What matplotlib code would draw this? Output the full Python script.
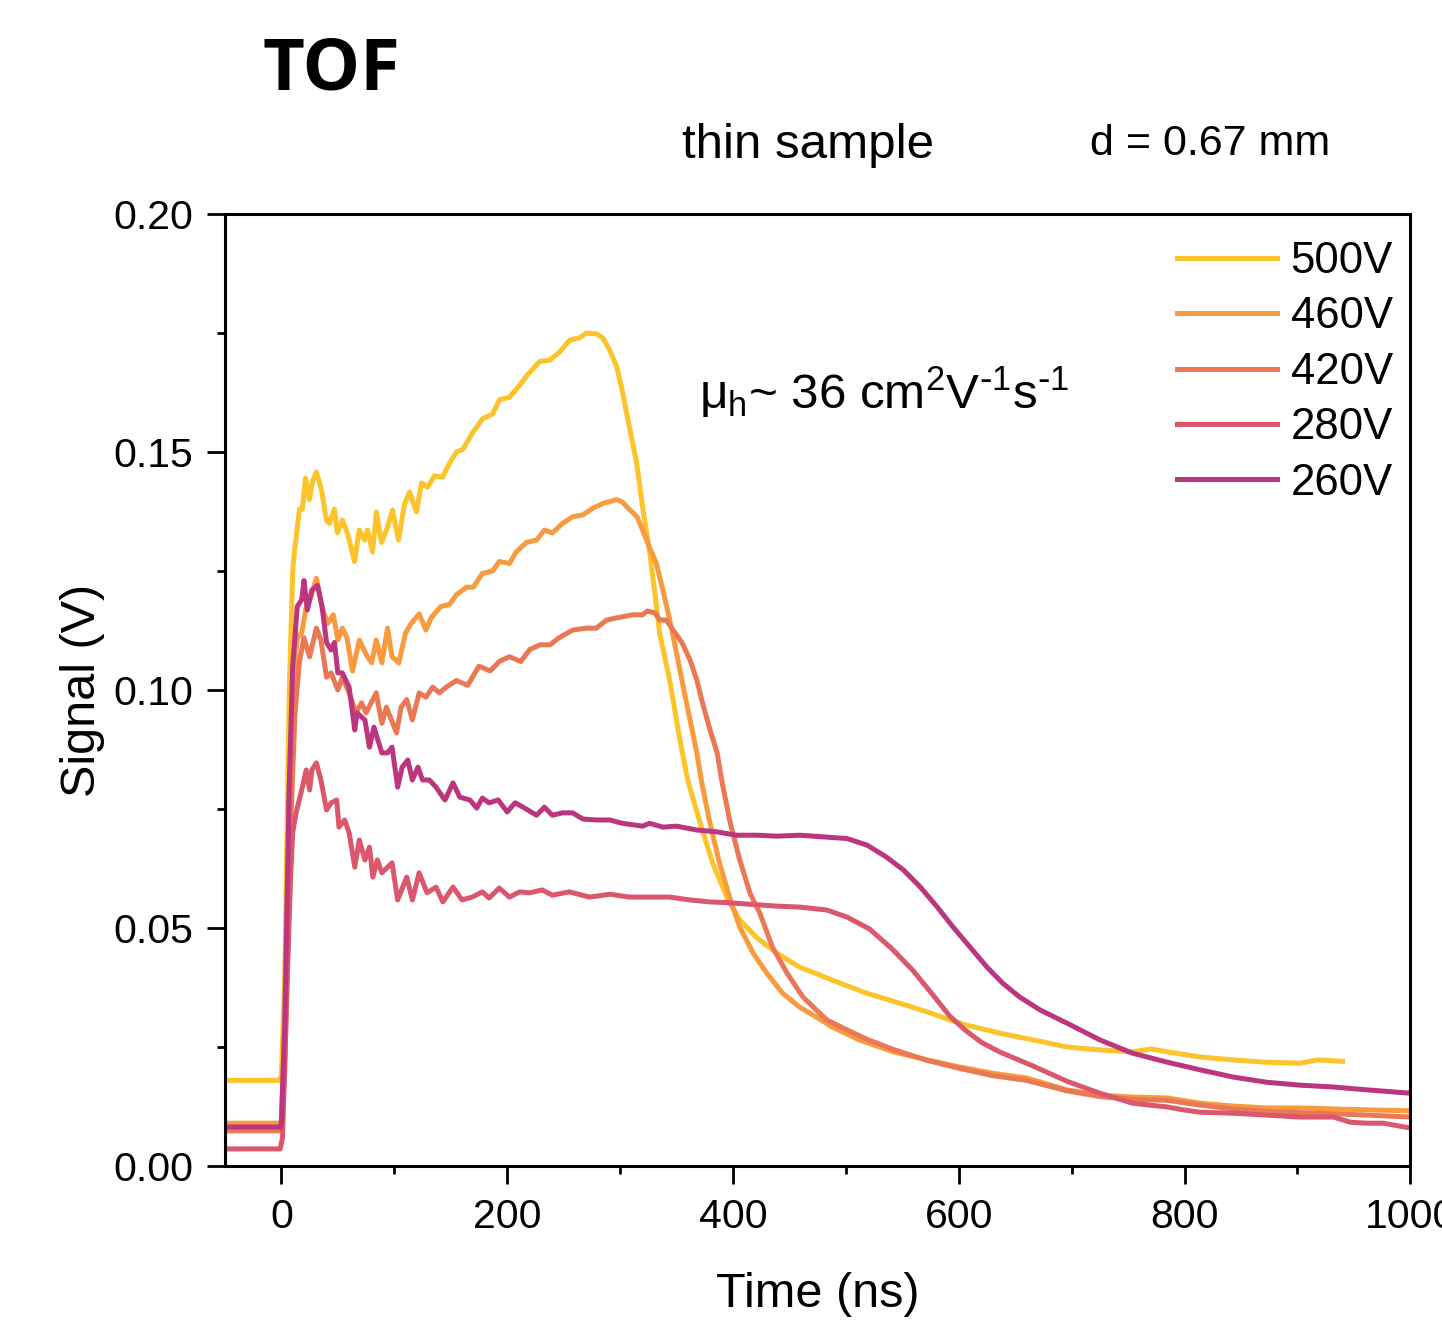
import matplotlib
matplotlib.use("Agg")
import matplotlib.pyplot as plt
from matplotlib.ticker import MultipleLocator, FormatStrFormatter

plt.rcParams['font.family'] = ['Liberation Sans', 'DejaVu Sans']
plt.rcParams['mathtext.default'] = 'regular'

# ---------------- data ----------------
labels = ["500V", "460V", "420V", "280V", "260V"]
colors = ["#FCC42A", "#F89A3E", "#EB7854", "#DB576C", "#BC357F"]

t_500 = [-50, -2, 0, 3, 7, 10, 11.5, 16, 18.6, 21.3, 24.8, 27.5, 31, 35.5, 39.9, 42.6, 47, 49.6, 54,
         58.5, 64.7, 69, 73.6, 76.2, 80.7, 84.2, 88.7, 94, 98.4, 103.7, 109, 113.5, 119.7, 124.1,
         129.4, 135.6, 142.7, 149, 155, 160.5, 169.3, 178.2, 187.1, 193.3, 202.1, 211, 217.2, 228.7,
         237.6, 246.5, 255.3, 264.2, 270.4, 279.3, 284.6, 290.8, 297, 302.3, 308.5, 314.7, 320,
         326.2, 332.4, 335, 344, 353, 360, 371, 382, 394.5, 406, 421, 439, 459, 488.5, 518.6, 548,
         577, 592, 607, 636.5, 666, 696, 725, 754, 770, 785, 814, 843, 873, 902, 918, 940]
v_500 = [0.018, 0.018, 0.019, 0.04, 0.10, 0.125, 0.129, 0.138, 0.138, 0.1445, 0.140, 0.1437, 0.1458,
         0.142, 0.1357, 0.135, 0.138, 0.133, 0.1357, 0.133, 0.127, 0.1336, 0.1315, 0.1336, 0.129,
         0.1374, 0.131, 0.1342, 0.1378, 0.1315, 0.139, 0.1416, 0.1374, 0.1435, 0.1426, 0.145, 0.1447,
         0.1477, 0.150, 0.1505, 0.154, 0.157, 0.158, 0.161, 0.1615, 0.164, 0.166, 0.169, 0.1693,
         0.171, 0.1735, 0.174, 0.175, 0.1748, 0.174, 0.1714, 0.168, 0.1624, 0.155, 0.1477, 0.1384,
         0.129, 0.1174, 0.112, 0.102, 0.0895, 0.081, 0.072, 0.0637, 0.0565, 0.0517, 0.048, 0.0447,
         0.0418, 0.039, 0.0363, 0.0342, 0.032, 0.0307, 0.0296, 0.0279, 0.0265, 0.025, 0.0244, 0.024,
         0.0246, 0.024, 0.0229, 0.0223, 0.0218, 0.0216, 0.0223, 0.022]

t_460 = [-50, -1, 0, 3, 7, 10, 14, 18, 22, 26, 31, 36, 41, 46, 50, 54, 58, 63, 69, 75, 80, 84, 89,
         94, 98, 104, 110, 115, 122, 128, 133, 141, 149, 155, 164, 170, 178, 187, 193, 202, 208, 217,
         226, 233, 240, 249, 258, 267, 276, 285, 297, 302, 308, 315, 320, 326, 332, 338, 344, 350,
         356, 362, 368, 372, 379, 388, 397, 406, 418, 430, 444, 459, 474, 488, 512, 542, 572, 601,
         630, 660, 696, 725, 754, 785, 814, 843, 873, 902, 932, 962, 1000]
v_460 = [0.009, 0.009, 0.010, 0.03, 0.08, 0.10, 0.111, 0.112, 0.1175, 0.1195, 0.1235, 0.1175, 0.114,
         0.1158, 0.1105, 0.113, 0.111, 0.104, 0.1105, 0.1075, 0.1057, 0.1105, 0.1057, 0.113, 0.107,
         0.1057, 0.112, 0.114, 0.116, 0.1126, 0.1153, 0.1175, 0.118, 0.120, 0.1216, 0.1216, 0.1245,
         0.125, 0.127, 0.1266, 0.129, 0.131, 0.1315, 0.1336, 0.133, 0.135, 0.1364, 0.1368, 0.1382,
         0.1392, 0.140, 0.1395, 0.138, 0.1364, 0.1336, 0.130, 0.1267, 0.121, 0.1147, 0.1078, 0.1006,
         0.0937, 0.0868, 0.081, 0.0727, 0.0637, 0.0565, 0.0502, 0.0447, 0.0405, 0.0363, 0.0334,
         0.0313, 0.0292, 0.0265, 0.024, 0.0223, 0.0208, 0.0195, 0.0185, 0.016, 0.0149, 0.0145,
         0.0143, 0.0132, 0.0126, 0.0122, 0.0122, 0.012, 0.0118, 0.0116]

t_420 = [-50, -1, 0, 3, 8, 12, 16, 20, 25, 31, 35, 40, 44, 50, 54, 60, 66, 71, 75, 84, 89, 93, 102,
         106, 111, 116, 122, 128, 134, 140, 146, 155, 165, 175, 185, 193, 202, 212, 220, 229, 238,
         246, 258, 270, 279, 288, 300, 311, 320, 324, 331, 335, 341, 347, 355, 362, 368, 373, 379,
         386, 390, 397, 406, 415, 424, 435, 448, 462, 483, 501, 520, 542, 572, 601, 630, 660, 696,
         725, 754, 785, 814, 843, 873, 902, 932, 962, 1000]
v_420 = [0.0074, 0.0074, 0.008, 0.02, 0.07, 0.095, 0.106, 0.111, 0.107, 0.113, 0.1105, 0.1027,
         0.1036, 0.100, 0.1027, 0.0994, 0.0952, 0.0973, 0.0952, 0.0994, 0.093, 0.0964, 0.091, 0.0964,
         0.098, 0.0937, 0.0994, 0.0985, 0.1006, 0.0994, 0.1006, 0.102, 0.101, 0.105, 0.104, 0.106,
         0.107, 0.106, 0.1085, 0.1095, 0.1095, 0.111, 0.1126, 0.113, 0.113, 0.1147, 0.1153, 0.1158,
         0.1158, 0.1166, 0.1162, 0.1147, 0.1147, 0.1126, 0.1099, 0.1063, 0.1021, 0.0973, 0.0922,
         0.0868, 0.0811, 0.0727, 0.0643, 0.0574, 0.053, 0.046, 0.0405, 0.0355, 0.0307, 0.0286,
         0.0265, 0.0245, 0.0222, 0.0205, 0.019, 0.018, 0.0158, 0.0146, 0.014, 0.0138, 0.0128, 0.012,
         0.0115, 0.0112, 0.011, 0.0107, 0.0103]

t_280 = [-50, -1, 1, 4, 8, 10, 13, 18, 22, 25, 27, 31, 35, 40, 44, 49, 51, 56, 60, 65, 69, 74, 78,
         81, 85, 89, 98, 103, 111, 116, 122, 129, 137, 143, 152, 160, 169, 178, 184, 193, 202, 211,
         220, 231, 240, 255, 273, 291, 308, 326, 344, 362, 379, 397, 415, 439, 459, 483, 501, 521,
         541, 559, 577, 592, 606, 620, 636, 666, 696, 725, 754, 785, 799, 814, 843, 873, 902, 932,
         947, 962, 976, 1000]
v_280 = [0.0036, 0.0036, 0.006, 0.03, 0.06, 0.070, 0.0742, 0.079, 0.0832, 0.079, 0.0832, 0.0847,
         0.0811, 0.0748, 0.0763, 0.0769, 0.0712, 0.0727, 0.070, 0.0628, 0.0685, 0.0643, 0.067,
         0.0607, 0.0643, 0.0616, 0.0637, 0.0559, 0.0607, 0.0559, 0.0616, 0.0574, 0.0586, 0.0555,
         0.0586, 0.0559, 0.0565, 0.0576, 0.0563, 0.0584, 0.0565, 0.0576, 0.0574, 0.058, 0.0569,
         0.0576, 0.0565, 0.0571, 0.0565, 0.0565, 0.0565, 0.0559, 0.0555, 0.0553, 0.055, 0.0546,
         0.0544, 0.0538, 0.0523, 0.0498, 0.0456, 0.0412, 0.036, 0.0315, 0.0285, 0.026, 0.024, 0.021,
         0.0178, 0.0153, 0.0132, 0.0124, 0.0118, 0.0113, 0.0111, 0.0107, 0.0103, 0.0103, 0.0092,
         0.009, 0.009, 0.008]

t_260 = [-50, -1, 0, 3, 7, 10, 12, 14, 18, 20, 23, 27, 32, 36, 40, 44, 47, 50, 54, 60, 65, 67, 74,
         78, 82, 89, 94, 98, 103, 107, 112, 116, 121, 125, 131, 137, 143, 145, 152, 158, 167, 173,
         178, 184, 192, 200, 207, 214, 226, 233, 240, 249, 258, 267, 279, 291, 302, 320, 326, 338,
         350, 368, 386, 403, 421, 439, 459, 483, 501, 519, 536, 551, 566, 581, 595, 610, 625, 639,
         654, 672, 696, 725, 754, 785, 814, 843, 873, 902, 932, 962, 1000]
v_260 = [0.0082, 0.0082, 0.009, 0.03, 0.08, 0.105, 0.111, 0.1175, 0.119, 0.123, 0.1168, 0.121,
         0.122, 0.1175, 0.110, 0.1084, 0.110, 0.1036, 0.1036, 0.1006, 0.0916, 0.0952, 0.0937, 0.088,
         0.0922, 0.0868, 0.0868, 0.088, 0.0796, 0.0838, 0.0853, 0.0811, 0.0838, 0.0811, 0.0811,
         0.0796, 0.0775, 0.0769, 0.0805, 0.0775, 0.0769, 0.0752, 0.0773, 0.0763, 0.0769, 0.0744,
         0.0763, 0.0754, 0.0737, 0.0754, 0.0737, 0.0742, 0.0742, 0.0729, 0.0727, 0.0727, 0.072,
         0.0714, 0.072, 0.0712, 0.0714, 0.0706, 0.0702, 0.0695, 0.0695, 0.0693, 0.0695, 0.0691,
         0.0688, 0.0674, 0.0649, 0.0622, 0.0586, 0.0544, 0.0502, 0.046, 0.0418, 0.0384, 0.0355,
         0.0328, 0.030, 0.0265, 0.0237, 0.0218, 0.0202, 0.0187, 0.0176, 0.017, 0.0166, 0.016, 0.0153]

xticks = [0, 200, 400, 600, 800, 1000]
yticks = [0.00, 0.05, 0.10, 0.15, 0.20]

series_t = [t_500, t_460, t_420, t_280, t_260]
series_v = [v_500, v_460, v_420, v_280, v_260]

# ---------------- figure ----------------
fig = plt.figure(figsize=(14.42, 13.21), dpi=100)
ax = fig.add_axes([0.156, 0.1173, 0.822, 0.7207])

for t, v, c, lab in zip(series_t, series_v, colors, labels):
    ax.plot(t, v, color=c, lw=3.6, label=lab, solid_joinstyle='round')

ax.set_xlim(-50, 1000)
ax.set_ylim(0.0, 0.20)
ax.set_xticks(xticks)
ax.set_yticks(yticks)
ax.xaxis.set_minor_locator(MultipleLocator(100))
ax.yaxis.set_minor_locator(MultipleLocator(0.025))
ax.yaxis.set_major_formatter(FormatStrFormatter('%.2f'))

for s in ax.spines.values():
    s.set_linewidth(2.2)
ax.tick_params(which='major', direction='out', length=13, width=2.0, labelsize=29.5, pad=10)
ax.tick_params(which='minor', direction='out', length=6, width=2.0)
ax.tick_params(top=False, right=False, which='both')

ax.set_xlabel('Time (ns)', fontsize=35, labelpad=26)
ax.set_ylabel('Signal (V)', fontsize=35, labelpad=6)

leg = ax.legend(loc='upper right', bbox_to_anchor=(1.0, 0.99), frameon=False, fontsize=31.5,
                handlelength=2.3, handletextpad=0.3, labelspacing=0.33, borderaxespad=0.0)

ax.text(0.40, 0.813,
        r'$\mathregular{μ_h}$~ 36 cm$\mathregular{^2}$V$\mathregular{^{\text{-}1}}$s$\mathregular{^{\text{-}1}}$',
        transform=ax.transAxes, fontsize=35.5, ha='left', va='center')

fig.text(262 / 1442, 1 - 70 / 1321, 'TOF', fontsize=52, fontweight='bold',
         family=['Open Sans', 'DejaVu Sans'], ha='left', va='center')
fig.text(682 / 1442, 1 - 145 / 1321, 'thin sample', fontsize=35.5, ha='left', va='center')
fig.text(1090 / 1442, 1 - 144 / 1321, 'd = 0.67 mm', fontsize=31, ha='left', va='center')

fig.savefig('out.png', dpi=100)
